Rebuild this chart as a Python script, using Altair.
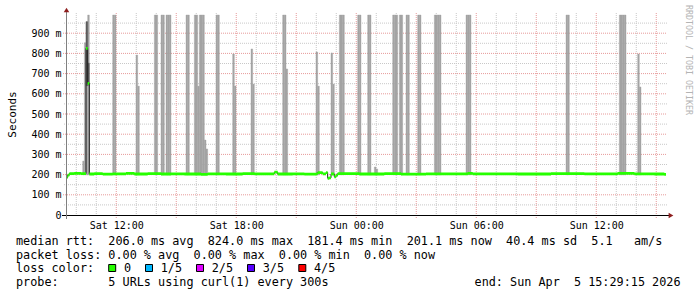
import altair as alt
import pandas as pd

# ---------------- data ----------------
START_MS = int(pd.Timestamp("2026-04-04T09:29:15Z").value // 10**6)
STEP_MS = 300_000          # 5 min RRD step
N_STEPS = 360              # 30 hours shown
END_MS = START_MS + N_STEPS * STEP_MS

# median rtt (ms) as step function: value holds from break step until next break
med_break_step = [0, 1, 2, 5, 9, 12, 13, 14, 17, 22, 28, 36, 41, 49, 57, 63, 71, 81, 85, 96,
                  106, 113, 125, 127, 136, 143, 150, 151, 154, 156, 157, 158, 159, 161, 162,
                  163, 176, 191, 201, 216, 241, 244, 271, 291, 311, 331, 341, 353, 359]
med_break_val = [186, 197, 205, 206, 205, 825, 652, 203, 205, 202, 204, 206, 203, 205, 203, 204,
                 203, 201, 204, 203, 205, 204, 212, 203, 204, 202, 204, 210, 204, 210, 182, 184,
                 203, 189, 196, 205, 203, 205, 202, 204, 206, 204, 203, 205, 204, 206, 204, 203, 201]

# smoke (spread of the 5 probes): step index and max value (ms)
smoke_step = [10, 11, 12, 13, 28, 29, 42, 43, 53, 54, 57, 58, 60, 61, 62, 72, 73, 77, 78, 79,
              80, 81, 82, 83, 84, 90, 91, 100, 101, 111, 112, 130, 131, 132, 150, 151, 159, 160,
              164, 165, 166, 175, 176, 181, 182, 185, 186, 196, 197, 198, 200, 201, 204, 205,
              211, 212, 221, 222, 223, 224, 240, 241, 242, 300, 301, 332, 333, 334, 335, 343, 344]
smoke_hi = [267, 853, 957, 990, 990, 990, 792, 638, 990, 990, 990, 990, 990, 990, 990, 990, 990,
            990, 990, 638, 990, 990, 990, 371, 327, 990, 990, 797, 638, 822, 648, 990, 990, 723,
            807, 638, 802, 648, 990, 990, 990, 990, 990, 990, 990, 238, 228, 990, 990, 990, 990,
            990, 990, 990, 990, 990, 990, 990, 990, 990, 990, 990, 990, 990, 990, 990, 990, 990,
            990, 797, 634]
SMOKE_LO = 199

# inner (denser) smoke
dark_step = [12, 13]
dark_lo = [640, 643]
dark_hi = [957, 752]

y_label_values = [0, 100, 200, 300, 400, 500, 600, 700, 800, 900]
y_major_grid = [100, 200, 300, 400, 500, 600, 700, 800, 900]
y_minor_grid = [50, 150, 250, 350, 450, 550, 650, 750, 850, 950]
x_label_times = ["2026-04-04T12:00:00Z", "2026-04-04T18:00:00Z", "2026-04-05T00:00:00Z",
                 "2026-04-05T06:00:00Z", "2026-04-05T12:00:00Z"]

loss_labels = ["0", "1/5", "2/5", "3/5", "4/5"]
loss_colors = ["#26ff00", "#00b8ff", "#dd00ff", "#5500ff", "#ff0000"]
loss_box_px = [46.2, 83.0, 134.0, 185.0, 236.3]   # legend layout (pixels from plot's left edge)

legend_lines = [
    "median rtt:  206.0 ms avg  824.0 ms max  181.4 ms min  201.1 ms now  40.4 ms sd  5.1   am/s",
    "packet loss: 0.00 % avg  0.00 % max  0.00 % min  0.00 % now",
    "loss color:",
    "probe:       5 URLs using curl(1) every 300s",
]
end_text = "end: Sun Apr  5 15:29:15 2026"
watermark = "RRDTOOL / TOBI OETIKER"

# ---------------- tables ----------------
med = []
for k, s in enumerate(med_break_step):
    e = med_break_step[k + 1] if k + 1 < len(med_break_step) else N_STEPS
    med += [med_break_val[k]] * (e - s)
steps = pd.DataFrame({"i": range(N_STEPS), "med": med})
steps["t0"] = START_MS + steps["i"] * STEP_MS
line_df = pd.concat([steps, pd.DataFrame({"i": [N_STEPS], "med": [med[-1]], "t0": [END_MS]})],
                    ignore_index=True)
line_df["lo"] = line_df["med"] - 7
line_df["hi"] = line_df["med"] + 7

smoke_df = pd.DataFrame({"i": smoke_step, "hi": smoke_hi})
smoke_df["lo"] = SMOKE_LO
smoke_df["t0"] = START_MS + smoke_df["i"] * STEP_MS
smoke_df["t1"] = smoke_df["t0"] + STEP_MS

dark_df = pd.DataFrame({"i": dark_step, "lo": dark_lo, "hi": dark_hi})
dark_df["t0"] = START_MS + dark_df["i"] * STEP_MS
dark_df["t1"] = dark_df["t0"] + STEP_MS

hours = pd.date_range("2026-04-04T10:00:00Z", "2026-04-05T15:00:00Z", freq="h")
vgrid = pd.DataFrame({"t": (hours.asi8 // 10**6), "major": (hours.hour % 3 == 0)})
hgrid = pd.DataFrame({"v": y_major_grid + y_minor_grid,
                      "major": [True] * len(y_major_grid) + [False] * len(y_minor_grid)})
xlab_ms = [int(pd.Timestamp(s).value // 10**6) for s in x_label_times]

# ---------------- encodings ----------------
MONO = "DejaVu Sans Mono"
W, H = 600, 202
xscale = alt.Scale(type="utc", domain=[START_MS, END_MS])
yscale = alt.Scale(domain=[0, 1000], nice=False)
x_axis = alt.Axis(values=xlab_ms, labelExpr="utcFormat(datum.value, '%a %H:%M')",
                  domain=False, ticks=False, tickSize=0, grid=False, labelPadding=13,
                  labelBaseline="alphabetic", labelFont=MONO, labelFontSize=10,
                  labelColor="#000", title=None, labelFlush=False, labelOverlap=False)
y_axis = alt.Axis(values=y_label_values,
                  labelExpr="datum.value == 0 ? '0' : datum.value + ' m'",
                  domain=False, ticks=False, tickSize=0, grid=False, labelPadding=5,
                  labelFont=MONO, labelFontSize=10, labelColor="#000",
                  title="Seconds", titleFont=MONO, titleFontSize=11, titleFontWeight="normal",
                  titleColor="#000", titleX=-51, titleY=101, titleBaseline="alphabetic",
                  titleAngle=270, titleAlign="center")


def X(f):
    return alt.X(f, type="temporal", scale=xscale, axis=x_axis)


def Y(f):
    return alt.Y(f, type="quantitative", scale=yscale, axis=y_axis)


# grid
vminor = alt.Chart(vgrid[~vgrid.major]).mark_rule(color="#c8c8c8", strokeWidth=1, strokeDash=[1, 1]).encode(
    x=X("t"), y=alt.value(0), y2=alt.value(H + 2))
vmajor = alt.Chart(vgrid[vgrid.major]).mark_rule(color="#e79a9a", strokeWidth=1, strokeDash=[1, 1]).encode(
    x=X("t"), y=alt.value(0), y2=alt.value(H + 3))
hminor = alt.Chart(hgrid[~hgrid.major]).mark_rule(color="#c8c8c8", strokeWidth=1, strokeDash=[1, 1]).encode(
    y=Y("v"), x=alt.value(-2), x2=alt.value(W + 1))
hmajor = alt.Chart(hgrid[hgrid.major]).mark_rule(color="#e79a9a", strokeWidth=1, strokeDash=[1, 1]).encode(
    y=Y("v"), x=alt.value(-3), x2=alt.value(W + 1))

smoke = alt.Chart(smoke_df).mark_rect(color="#a4a4a4", stroke="#a4a4a4", strokeWidth=0.4).encode(
    x=X("t0"), x2="t1", y=Y("lo"), y2="hi")
smoke_dark = alt.Chart(dark_df).mark_rect(color="#5c5c5c", stroke="#5c5c5c", strokeWidth=0.4).encode(
    x=X("t0"), x2="t1", y=Y("lo"), y2="hi")

med_line = alt.Chart(line_df).mark_line(color="#202020", strokeWidth=1, interpolate="step-after").encode(
    x=X("t0"), y=Y("med"))
med_band = alt.Chart(line_df).mark_area(color="#26ff00", interpolate="step-after", opacity=1).encode(
    x=X("t0"), y=Y("hi"), y2="lo")

# axes lines and arrows
axis_df = pd.DataFrame({"a": [0]})
xaxis_line = alt.Chart(axis_df).mark_rule(color="#000", strokeWidth=1).encode(
    x=alt.value(-4), x2=alt.value(W + 4), y=alt.value(H + 0.5))
yaxis_line = alt.Chart(axis_df).mark_rule(color="#808080", strokeWidth=1).encode(
    x=alt.value(0.5), y=alt.value(-3), y2=alt.value(H + 4))
arrow_up = alt.Chart(axis_df).mark_point(shape="triangle-up", filled=True, size=30,
                                          color="#8e1e1e", opacity=1).encode(
    x=alt.value(0.5), y=alt.value(-3))
arrow_right = alt.Chart(axis_df).mark_point(shape="triangle-right", filled=True, size=30,
                                             color="#8e1e1e", opacity=1).encode(
    x=alt.value(W + 5), y=alt.value(H + 0.5))

# legend text
NB = "\u00a0"
text_df = pd.DataFrame({
    "x": [-50] * 4,
    "y": [232, 245.5, 259, 272.5],
    "txt": [s.replace(" ", NB) for s in legend_lines],
})
legend_text = alt.Chart(text_df).mark_text(font=MONO, fontSize=11.8, align="left",
                                            baseline="alphabetic", color="#000").encode(
    x=alt.X("x:Q", scale=None), y=alt.Y("y:Q", scale=None), text="txt:N")
end_df = pd.DataFrame({"x": [614.5], "y": [272.5], "txt": [end_text.replace(" ", NB)]})
end_mark = alt.Chart(end_df).mark_text(font=MONO, fontSize=11.8, align="right",
                                        baseline="alphabetic", color="#000").encode(
    x=alt.X("x:Q", scale=None), y=alt.Y("y:Q", scale=None), text="txt:N")

loss_df = pd.DataFrame({"lab": loss_labels, "col": loss_colors, "bx": loss_box_px})
loss_df["tx"] = loss_df["bx"] + 11.7
loss_df["by"] = 255.0
boxes = alt.Chart(loss_df).mark_square(size=49, filled=True, stroke="#000", strokeWidth=1,
                                        opacity=1).encode(
    x=alt.X("bx:Q", scale=None), y=alt.Y("by:Q", scale=None),
    fill=alt.Color("col:N", scale=None))
loss_text = alt.Chart(loss_df).mark_text(font=MONO, fontSize=11.8, align="left",
                                          baseline="alphabetic", color="#000").encode(
    x=alt.X("tx:Q", scale=None), y=alt.value(259), text="lab:N")

wm_df = pd.DataFrame({"x": [622], "y": [-8], "txt": [watermark.replace(" ", NB)]})
wm = alt.Chart(wm_df).mark_text(font=MONO, fontSize=8.3, align="left", baseline="middle",
                                 angle=90, color="#b4b4b4").encode(
    x=alt.X("x:Q", scale=None), y=alt.Y("y:Q", scale=None), text="txt:N")

chart = alt.layer(
    vminor, hminor, vmajor, hmajor, smoke, smoke_dark, med_line, med_band,
    xaxis_line, yaxis_line, arrow_up, arrow_right,
    legend_text, end_mark, boxes, loss_text, wm,
).properties(
    width=W, height=H,
    autosize=alt.AutoSizeParams(type="none"),
    padding={"left": 66, "top": 13, "right": 31, "bottom": 82},
    background="#ffffff",
).configure_view(stroke=None)

chart.save("out.html", embed_options={"renderer": "svg", "actions": False})
